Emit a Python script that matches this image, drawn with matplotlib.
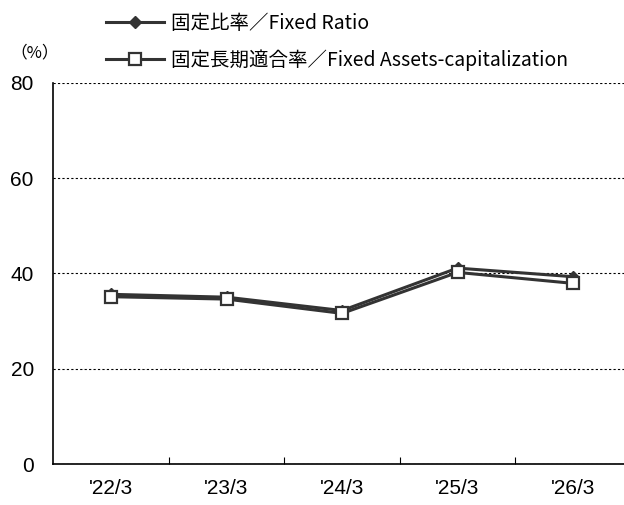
import matplotlib.pyplot as plt
from matplotlib.ticker import FixedLocator

# ----------------------------
# Data
# ----------------------------
periods = ["'22/3", "'23/3", "'24/3", "'25/3", "'26/3"]
fixed_ratio = [35.6, 35.0, 32.2, 41.1, 39.3]
fixed_assets_cap = [35.1, 34.6, 31.6, 40.2, 37.9]

label_ratio = "固定比率／Fixed Ratio"
label_cap = "固定長期適合率／Fixed Assets-capitalization"

line_color = "#333333"
cjk = ["Noto Sans CJK JP", "DejaVu Sans"]

# ----------------------------
# Figure
# ----------------------------
fig = plt.figure(figsize=(6.24, 5.05), dpi=100)
ax = fig.add_axes([53.3 / 624, 41 / 505, 577.5 / 624, 381.3 / 505])

x = list(range(len(periods)))
ax.plot(x, fixed_ratio, color=line_color, lw=2.2, marker="D", ms=6.5,
        mfc=line_color, mec=line_color, label=label_ratio, zorder=3)
ax.plot(x, fixed_assets_cap, color=line_color, lw=2.2, marker="s", ms=8.5,
        mfc="white", mec=line_color, mew=1.6, label=label_cap, zorder=4)

ax.set_xlim(-0.5, len(periods) - 0.5)
ax.set_ylim(0, 80)
ax.set_yticks([0, 20, 40, 60, 80])
ax.set_xticks(x)
ax.set_xticklabels(periods)
ax.xaxis.set_minor_locator(FixedLocator([i + 0.5 for i in x[:-1]]))

for side in ["top", "right"]:
    ax.spines[side].set_visible(False)
ax.spines["left"].set_linewidth(1.2)
ax.spines["bottom"].set_linewidth(1.2)

ax.grid(axis="y", color="black", linestyle=(0, (2, 2)), linewidth=0.8)
ax.set_axisbelow(True)

ax.tick_params(axis="x", which="major", length=0, pad=11)
ax.tick_params(axis="x", which="minor", direction="in", length=5, width=0.8)
ax.tick_params(axis="y", length=0, pad=14)
for lbl in ax.get_xticklabels() + ax.get_yticklabels():
    lbl.set_fontfamily("Liberation Sans")
    lbl.set_fontsize(15)

fig.text(10 / 624, 1 - 53 / 505, "（%）", family=cjk, fontsize=12,
         va="center", ha="left")

fig.legend(loc="upper left", bbox_to_anchor=(88 / 624, 1 + 5 / 505),
           frameon=False, prop={"family": cjk, "size": 14},
           handlelength=3.0, handletextpad=0.35, labelspacing=0.8)

fig.savefig("out.png", dpi=100)
plt.close(fig)
